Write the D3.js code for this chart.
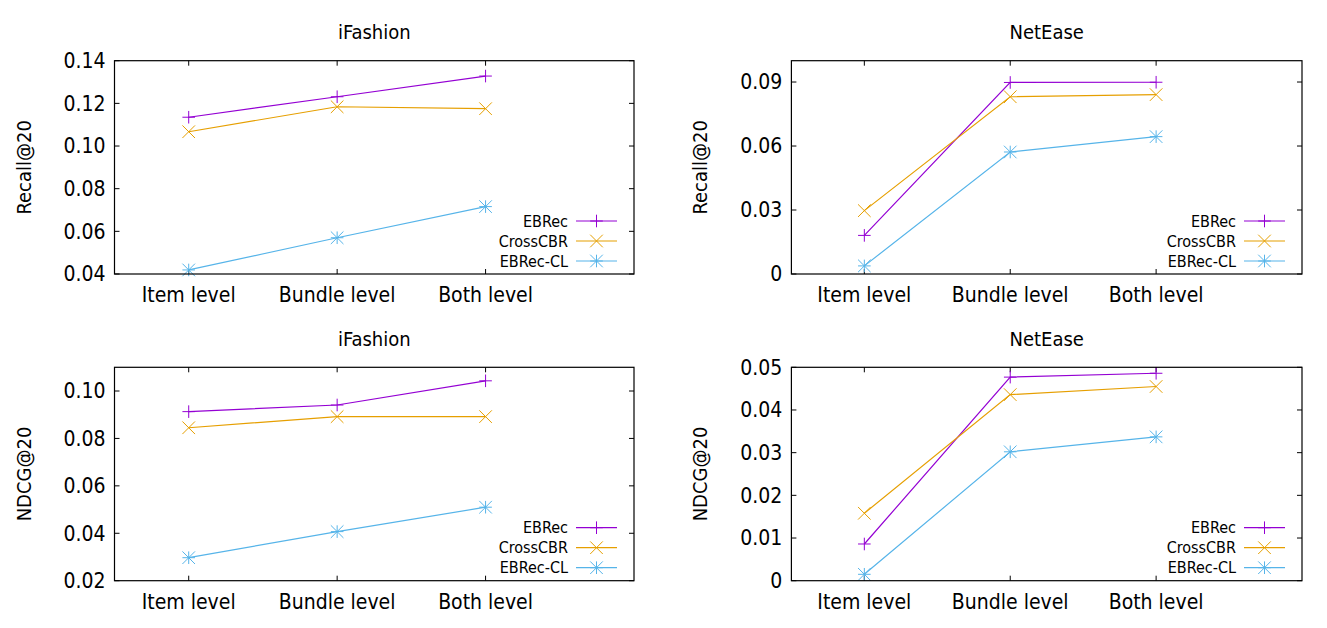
<!doctype html>
<html lang="en">
<head>
<meta charset="utf-8">
<title>EBRec ablation</title>
<style>
  body { margin: 0; background: #fff; }
  svg text { font-family: "DejaVu Sans Condensed", "DejaVu Sans", sans-serif; fill: #000; }
</style>
<script src="https://d3js.org/d3.v7.min.js"></script>
</head>
<body>
<div id="chart"></div>
<script>
// categories along x, same for all panels
var categories = ["Item level", "Bundle level", "Both level"];
var seriesNames = ["EBRec", "CrossCBR", "EBRec-CL"];

// values, one row per series (EBRec, CrossCBR, EBRec-CL)
var ifashionRecall = [[0.1135, 0.1231, 0.1328], [0.1067, 0.1184, 0.1175], [0.0419, 0.0570, 0.0716]];
var neteaseRecall  = [[0.0181, 0.0898, 0.0899], [0.0297, 0.0831, 0.0841], [0.0038, 0.0572, 0.0644]];
var ifashionNdcg   = [[0.0913, 0.0941, 0.1043], [0.0845, 0.0892, 0.0892], [0.0297, 0.0407, 0.0510]];
var neteaseNdcg    = [[0.0086, 0.0477, 0.0486], [0.0158, 0.0436, 0.0455], [0.0015, 0.0302, 0.0337]];

// y ticks and their labels
var ifashionRecallTicks = [0.04, 0.06, 0.08, 0.10, 0.12, 0.14];
var ifashionRecallLabels = ["0.04", "0.06", "0.08", "0.10", "0.12", "0.14"];
var neteaseRecallTicks = [0, 0.03, 0.06, 0.09];
var neteaseRecallLabels = ["0", "0.03", "0.06", "0.09"];
var ifashionNdcgTicks = [0.02, 0.04, 0.06, 0.08, 0.10];
var ifashionNdcgLabels = ["0.02", "0.04", "0.06", "0.08", "0.10"];
var neteaseNdcgTicks = [0, 0.01, 0.02, 0.03, 0.04, 0.05];
var neteaseNdcgLabels = ["0", "0.01", "0.02", "0.03", "0.04", "0.05"];

var colors = ["#9400d3", "#e69f00", "#56b4e9"];

var svg = d3.select("#chart").append("svg")
  .attr("width", 1327)
  .attr("height", 628);

// panel frames (left, right, top, bottom) and y ranges
var panels = [
  {title: "iFashion", ylab: "Recall@20", data: ifashionRecall, ticks: ifashionRecallTicks, labels: ifashionRecallLabels,
   ydom: [0.04, 0.14], x0: 114.5, x1: 634, y0: 60.7, y1: 274, ty: 31.7},
  {title: "NetEase", ylab: "Recall@20", data: neteaseRecall, ticks: neteaseRecallTicks, labels: neteaseRecallLabels,
   ydom: [0, 0.1], x0: 791.4, x1: 1302, y0: 60.7, y1: 274, ty: 31.7},
  {title: "iFashion", ylab: "NDCG@20", data: ifashionNdcg, ticks: ifashionNdcgTicks, labels: ifashionNdcgLabels,
   ydom: [0.02, 0.11], x0: 114.5, x1: 634, y0: 367.3, y1: 580.7, ty: 339},
  {title: "NetEase", ylab: "NDCG@20", data: neteaseNdcg, ticks: neteaseNdcgTicks, labels: neteaseNdcgLabels,
   ydom: [0, 0.05], x0: 791.4, x1: 1302, y0: 367.3, y1: 580.7, ty: 339}
];

// gnuplot point types: 1 = plus, 2 = cross, 3 = star
function markerPath(type, s) {
  var plus = "M" + (-s) + ",0H" + s + "M0," + (-s) + "V" + s;
  var cross = "M" + (-s) + "," + (-s) + "L" + s + "," + s + "M" + (-s) + "," + s + "L" + s + "," + (-s);
  if (type == 0) return plus;
  if (type == 1) return cross;
  return plus + cross;
}

panels.forEach(function(p) {
  var x = d3.scaleLinear().domain([-0.5, 3]).range([p.x0, p.x1]);
  var y = d3.scaleLinear().domain(p.ydom).range([p.y1, p.y0]);
  var g = svg.append("g");

  // title
  g.append("text")
    .attr("x", (p.x0 + p.x1) / 2)
    .attr("y", p.ty)
    .attr("dy", "0.35em")
    .attr("text-anchor", "middle")
    .attr("font-size", "20px")
    .text(p.title);

  // y axis label
  g.append("text")
    .attr("transform", "translate(" + (p.x0 - 91) + "," + ((p.y0 + p.y1) / 2) + ") rotate(-90)")
    .attr("dy", "0.35em")
    .attr("text-anchor", "middle")
    .attr("font-size", "20px")
    .text(p.ylab);

  // y ticks, inward on both sides
  p.ticks.forEach(function(t, i) {
    g.append("line").attr("x1", p.x0).attr("x2", p.x0 + 5).attr("y1", y(t)).attr("y2", y(t))
      .attr("stroke", "#000");
    g.append("line").attr("x1", p.x1).attr("x2", p.x1 - 5).attr("y1", y(t)).attr("y2", y(t))
      .attr("stroke", "#000");
    g.append("text")
      .attr("x", p.x0 - 9)
      .attr("y", y(t))
      .attr("dy", "0.35em")
      .attr("text-anchor", "end")
      .attr("font-size", "21px")
      .text(p.labels[i]);
  });

  // x ticks at categories, bottom and top
  categories.forEach(function(c, i) {
    g.append("line").attr("x1", x(i)).attr("x2", x(i)).attr("y1", p.y1).attr("y2", p.y1 - 5)
      .attr("stroke", "#000");
    g.append("line").attr("x1", x(i)).attr("x2", x(i)).attr("y1", p.y0).attr("y2", p.y0 + 5)
      .attr("stroke", "#000");
    g.append("text")
      .attr("x", x(i))
      .attr("y", p.y1 + 21)
      .attr("dy", "0.35em")
      .attr("text-anchor", "middle")
      .attr("font-size", "21px")
      .text(c);
  });

  // series
  var line = d3.line()
    .x(function(d, i) { return x(i); })
    .y(function(d) { return y(d); });

  p.data.forEach(function(vals, s) {
    g.append("path")
      .attr("d", line(vals))
      .attr("fill", "none")
      .attr("stroke", colors[s])
      .attr("stroke-width", 1.2);
    g.selectAll(null)
      .data(vals)
      .enter().append("path")
      .attr("transform", function(d, i) { return "translate(" + x(i) + "," + y(d) + ")"; })
      .attr("d", markerPath(s, 6.3))
      .attr("fill", "none")
      .attr("stroke", colors[s])
      .attr("stroke-width", 1);
  });

  // legend, bottom right inside frame
  seriesNames.forEach(function(name, s) {
    var ly = p.y1 - 53 + s * 20;
    g.append("text")
      .attr("x", p.x1 - 66)
      .attr("y", ly)
      .attr("dy", "0.35em")
      .attr("text-anchor", "end")
      .attr("font-size", "16px")
      .text(name);
    g.append("line")
      .attr("x1", p.x1 - 58).attr("x2", p.x1 - 17)
      .attr("y1", ly).attr("y2", ly)
      .attr("stroke", colors[s])
      .attr("stroke-width", 1.2);
    g.append("path")
      .attr("transform", "translate(" + (p.x1 - 37.5) + "," + ly + ")")
      .attr("d", markerPath(s, 6.3))
      .attr("fill", "none")
      .attr("stroke", colors[s])
      .attr("stroke-width", 1);
  });

  // frame
  g.append("rect")
    .attr("x", p.x0).attr("y", p.y0)
    .attr("width", p.x1 - p.x0).attr("height", p.y1 - p.y0)
    .attr("fill", "none")
    .attr("stroke", "#000")
    .attr("stroke-width", 1.2);
});
</script>
</body>
</html>
